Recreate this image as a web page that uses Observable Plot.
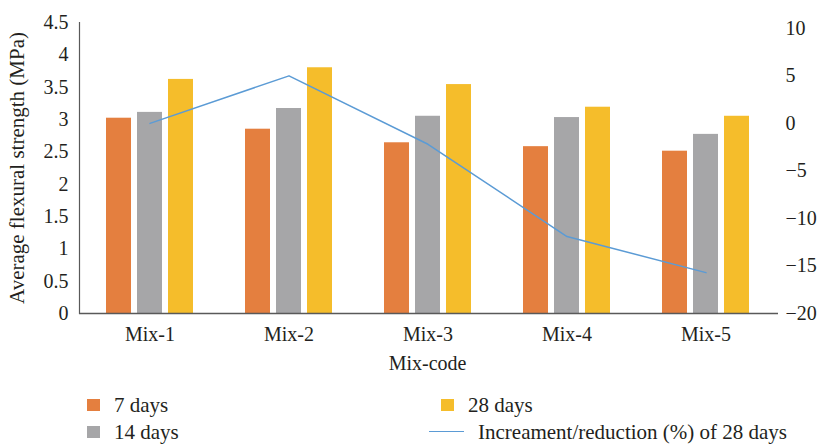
<!DOCTYPE html>
<html>
<head>
<meta charset="utf-8">
<script src="https://cdn.jsdelivr.net/npm/d3@7"></script>
<script src="https://cdn.jsdelivr.net/npm/@observablehq/plot@0.6"></script>
<style>
  html, body { margin: 0; padding: 0; background: #fff; }
  #chart { width: 819px; font-family: "Liberation Serif", "Times New Roman", serif; color: #231f20; }
  .legend { position: relative; width: 819px; height: 60px; font-size: 21px; }
  .legend .sw { position: absolute; width: 13px; height: 12px; }
  .legend .ln { position: absolute; width: 35px; height: 0; border-top: 1.5px solid #5b9bd5; }
  .legend .lb { position: absolute; line-height: 18px; white-space: nowrap; }
</style>
</head>
<body>
<div id="chart"></div>
<script>
// Mix designs on the category axis
const mixes = ["Mix-1", "Mix-2", "Mix-3", "Mix-4", "Mix-5"];
// Average flexural strength (MPa) by curing age
const days7 = [3.02, 2.85, 2.64, 2.58, 2.51];
const days14 = [3.11, 3.17, 3.05, 3.03, 2.77];
const days28 = [3.62, 3.80, 3.54, 3.19, 3.05];
// Increment / reduction (%) of 28-day strength relative to Mix-1
const change28 = [0, 5.0, -2.2, -11.9, -15.7];
// Axis ticks
const leftTicks = [0, 0.5, 1, 1.5, 2, 2.5, 3, 3.5, 4, 4.5];
const rightTicks = [-20, -15, -10, -5, 0, 5, 10];
const ages = ["7 days", "14 days", "28 days"];
const colors = ["#e47f3f", "#a6a6a8", "#f5bd2b"];
const lineColor = "#5b9bd5";
const lineLabel = "Increament/reduction (%) of 28 days";

// Right (percentage) axis is drawn on the left scale: -20..10 maps onto 0..4.41
const rightMin = -20, rightMax = 10, rightTop = 4.41;
const toLeft = v => (v - rightMin) / (rightMax - rightMin) * rightTop;

const series = [days7, days14, days28];
const rows = [];
series.forEach((vals, s) => vals.forEach((v, i) => rows.push({mix: mixes[i], age: ages[s], value: v, s})));
const lineRows = mixes.map((m, i) => ({mix: m, change: change28[i]}));

const font = '"Liberation Serif", "Times New Roman", serif';
const barW = 25, gap = 6;

const barMarks = series.map((vals, s) =>
  Plot.barY(rows.filter(r => r.s === s), {
    x: "mix", y: "value", fill: colors[s],
    insetLeft: s * (barW + gap),
    insetRight: (2 - s) * (barW + gap)
  })
);

const plot = Plot.plot({
  width: 819,
  height: 385,
  marginLeft: 79,
  marginRight: 44,
  marginTop: 22,
  marginBottom: 72,
  style: {fontFamily: font, fontSize: "20px", color: "#231f20", background: "#fff"},
  x: {domain: mixes, paddingInner: 0.375, paddingOuter: 0.1875, axis: null},
  y: {domain: [0, 4.5], axis: null},
  marks: [
    ...barMarks,
    Plot.line(lineRows, {x: "mix", y: d => toLeft(d.change), stroke: lineColor, strokeWidth: 1.5}),
    Plot.ruleY([0], {stroke: "#595959", strokeWidth: 1.5, insetRight: -3}),
    Plot.frame({anchor: "left", stroke: "#595959", strokeWidth: 1.2}),
    Plot.axisY(leftTicks, {tickSize: 0, tickPadding: 11, label: null, tickFormat: d => String(d), fontSize: 20}),
    Plot.axisX({tickSize: 0, tickPadding: 13, label: null, fontSize: 20}),
    Plot.text(rightTicks, {
      y: d => toLeft(d), text: d => (d < 0 ? "\u2212" + Math.abs(d) : String(d)),
      frameAnchor: "right", textAnchor: "start", dx: 10, fontSize: 20, fill: "#231f20"
    }),
    Plot.text(["Mix-code"], {text: d => d, frameAnchor: "bottom", dy: 56, fontSize: 20, fill: "#231f20"}),
    Plot.text(["Average flexural strength (MPa)"], {
      text: d => d, frameAnchor: "left", textAnchor: "middle", rotate: -90, dx: -62,
      fontSize: 21, fill: "#231f20"
    })
  ]
});

const chart = document.getElementById("chart");
chart.appendChild(plot);

// Legend below the plot
const legend = document.createElement("div");
legend.className = "legend";
const items = [
  {kind: "sw", color: colors[0], label: ages[0], x: 87, row: 0},
  {kind: "sw", color: colors[1], label: ages[1], x: 87, row: 1},
  {kind: "sw", color: colors[2], label: ages[2], x: 441, row: 0},
  {kind: "ln", color: lineColor, label: lineLabel, x: 429, row: 1}
];
for (const it of items) {
  const rowTop = it.row === 0 ? 0 : 27;
  const mark = document.createElement("div");
  mark.className = it.kind;
  if (it.kind === "sw") {
    mark.style.background = it.color;
    mark.style.left = it.x + "px";
    mark.style.top = (rowTop + 14) + "px";
  } else {
    mark.style.left = it.x + "px";
    mark.style.top = (rowTop + 19) + "px";
  }
  legend.appendChild(mark);
  const lb = document.createElement("div");
  lb.className = "lb";
  lb.textContent = it.label;
  lb.style.left = (it.kind === "sw" ? it.x + 27 : it.x + 49) + "px";
  lb.style.top = (rowTop + 11) + "px";
  legend.appendChild(lb);
}
chart.appendChild(legend);
</script>
</body>
</html>
